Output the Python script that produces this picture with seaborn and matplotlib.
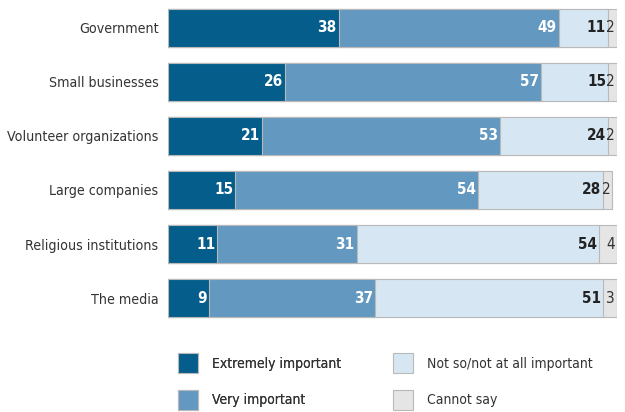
import matplotlib
matplotlib.use("Agg")
import matplotlib.pyplot as plt
import seaborn as sns
import pandas as pd
import numpy as np
from matplotlib.patches import Patch

categories = ["Government", "Small businesses", "Volunteer organizations",
              "Large companies", "Religious institutions", "The media"]
extremely = [38, 26, 21, 15, 11, 9]
very = [49, 57, 53, 54, 31, 37]
not_so = [11, 15, 24, 28, 54, 51]
cannot = [2, 2, 2, 2, 4, 3]
series_names = ["Extremely important", "Very important",
                "Not so/not at all important", "Cannot say"]
colors = ["#045d8a", "#6399c0", "#d6e7f3", "#e5e5e6"]

sns.set_theme(style="white")
plt.rcParams['font.family'] = ['DejaVu Sans']
plt.rcParams['font.stretch'] = 'condensed'

vals = [extremely, very, not_so, cannot]
cum = np.cumsum(np.array(vals, dtype=float), axis=0)

fig = plt.figure(figsize=(6.25, 4.12), dpi=100)
ax = fig.add_axes([0.269, 0.211, 0.718, 0.787])

for i in range(3, -1, -1):
    df = pd.DataFrame({"cat": categories, "val": cum[i]})
    sns.barplot(data=df, x="val", y="cat", orient="h", color=colors[i],
                width=0.7, edgecolor="#b9b9b9", linewidth=0.8, ax=ax,
                saturation=1)

ax.set_xlim(0, 100)
ax.set_ylim(5.5, -0.5)
ax.set_xlabel("")
ax.set_ylabel("")
ax.set_xticks([])
for s in ax.spines.values():
    s.set_visible(False)
ax.tick_params(axis="y", length=0, pad=7, labelsize=10.2, labelcolor="#333333")

for r in range(len(categories)):
    for i in range(4):
        v = vals[i][r]
        end = cum[i][r]
        if i < 2:
            col, w = "white", "bold"
        elif i == 2:
            col, w = "#222222", "bold"
        else:
            col, w = "#333333", "normal"
        ax.text(end - 0.4, r, str(v), ha="right", va="center",
                color=col, fontweight=w, fontsize=11)

handles = [Patch(facecolor=c, edgecolor="#b9b9b9", linewidth=0.8) for c in colors]
common = dict(loc="upper left", frameon=False, fontsize=10,
              handlelength=1.44, handleheight=1.84, labelspacing=1.18,
              handletextpad=1.0, borderpad=0, borderaxespad=0,
              labelcolor="#333333")
leg1 = fig.legend(handles[:2], series_names[:2],
                  bbox_to_anchor=(0.285, 0.1425), **common)
fig.add_artist(leg1)
fig.legend(handles[2:], series_names[2:],
           bbox_to_anchor=(0.629, 0.1425), **common)

fig.savefig("out.png", dpi=100)
